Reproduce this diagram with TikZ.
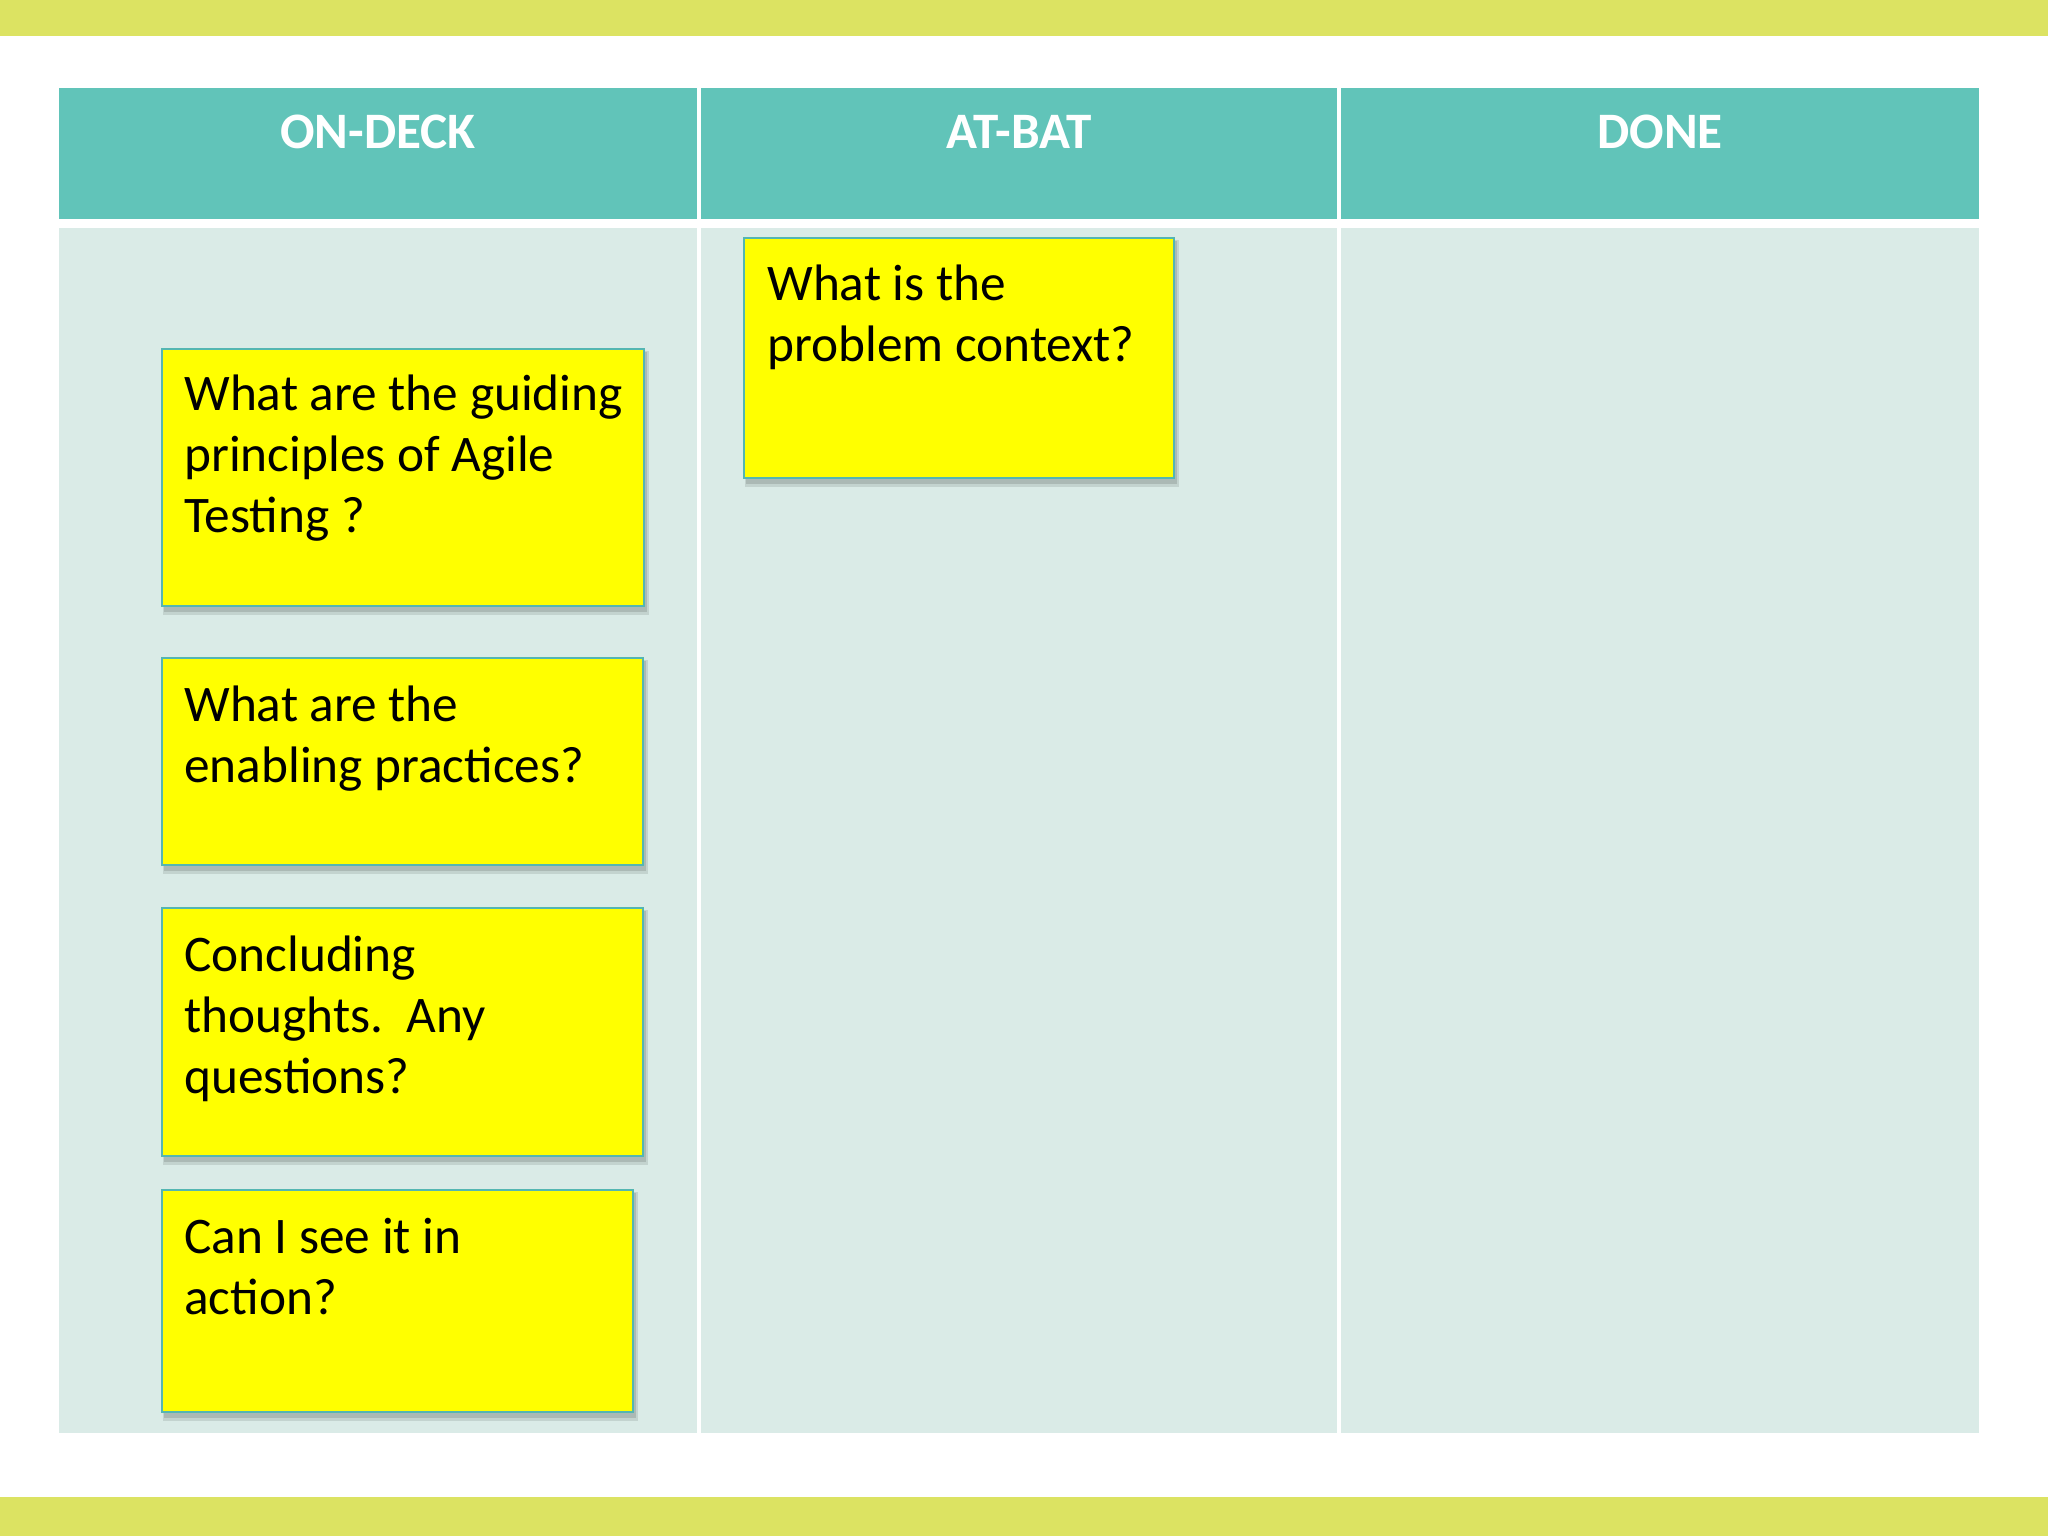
\documentclass[tikz,border=0pt]{standalone}
\usepackage{fontspec}
\setmainfont{Carlito}
\usetikzlibrary{fit}
\definecolor{band}{RGB}{220,227,98}
\definecolor{headc}{RGB}{97,196,185}
\definecolor{bodyc}{RGB}{218,235,231}
\definecolor{notey}{RGB}{255,255,0}
\definecolor{noteb}{RGB}{84,182,178}
\tikzset{
  head/.style={fill=headc, draw=none},
  bodycell/.style={fill=bodyc, draw=none},
  note/.style={fill=notey, draw=noteb, line width=1.2pt, inner sep=0pt, rectangle},
  htext/.style={text=white, font=\fontsize{29.1pt}{34pt}\selectfont\bfseries, anchor=base, inner sep=0pt},
  ntext/.style={text=black, font=\fontsize{29.2pt}{34pt}\selectfont, anchor=base west, inner sep=0pt},
}
\newcommand{\notebox}[5]{%
  \fill[black, opacity=0.10] (#2+1,#3+2) rectangle (#4+5,#5+9);
  \fill[black, opacity=0.12] (#2+2,#3+3) rectangle (#4+3,#5+6);
  \node[note, fit={(#2,#3) (#4,#5)}] (#1) {};}
\begin{document}
\begin{tikzpicture}[x=0.02cm,y=-0.02cm]
\useasboundingbox (0,0) rectangle (2048,1536);
\fill[white] (0,0) rectangle (2048,1536);
% bands
\fill[band] (0,0) rectangle (2048,36);
\fill[band] (0,1497) rectangle (2048,1536);
% header cells
\node[head, fit={(59,88) (697,219)}, inner sep=0pt] (h1) {};
\node[head, fit={(701,88) (1337,219)}, inner sep=0pt] (h2) {};
\node[head, fit={(1341,88) (1979,219)}, inner sep=0pt] (h3) {};
% body cells
\node[bodycell, fit={(59,228) (697,1433)}, inner sep=0pt] (b1) {};
\node[bodycell, fit={(701,228) (1337,1433)}, inner sep=0pt] (b2) {};
\node[bodycell, fit={(1341,228) (1979,1433)}, inner sep=0pt] (b3) {};
% header texts
\node[htext] (t1) at (378,148) {ON-DECK};
\node[htext] (t2) at (1019,148) {AT-BAT};
\node[htext] (t3) at (1660,148) {DONE};
% notes
\notebox{n1}{162}{349}{644}{606}
\notebox{n2}{162}{658}{643}{865}
\notebox{n3}{162}{908}{643}{1156}
\notebox{n4}{162}{1190}{633}{1412}
\notebox{n5}{744}{238}{1174}{478}
% note texts
\node[ntext] (n1a) at (184,410) {What are the guiding};
\node[ntext] (n1b) at (184,471) {principles of Agile};
\node[ntext] (n1c) at (184,532) {Testing ?};
\node[ntext] (n2a) at (184,721) {What are the};
\node[ntext] (n2b) at (184,782) {enabling practices?};
\node[ntext] (n3a) at (184,971) {Concluding};
\node[ntext] (n3b) at (184,1032) {thoughts.\ \ Any};
\node[ntext] (n3c) at (184,1093) {questions?};
\node[ntext] (n4a) at (184,1253) {Can I see it in};
\node[ntext] (n4b) at (184,1314) {action?};
\node[ntext] (n5a) at (767,300) {What is the};
\node[ntext] (n5b) at (767,361) {problem context?};
\end{tikzpicture}
\end{document}
